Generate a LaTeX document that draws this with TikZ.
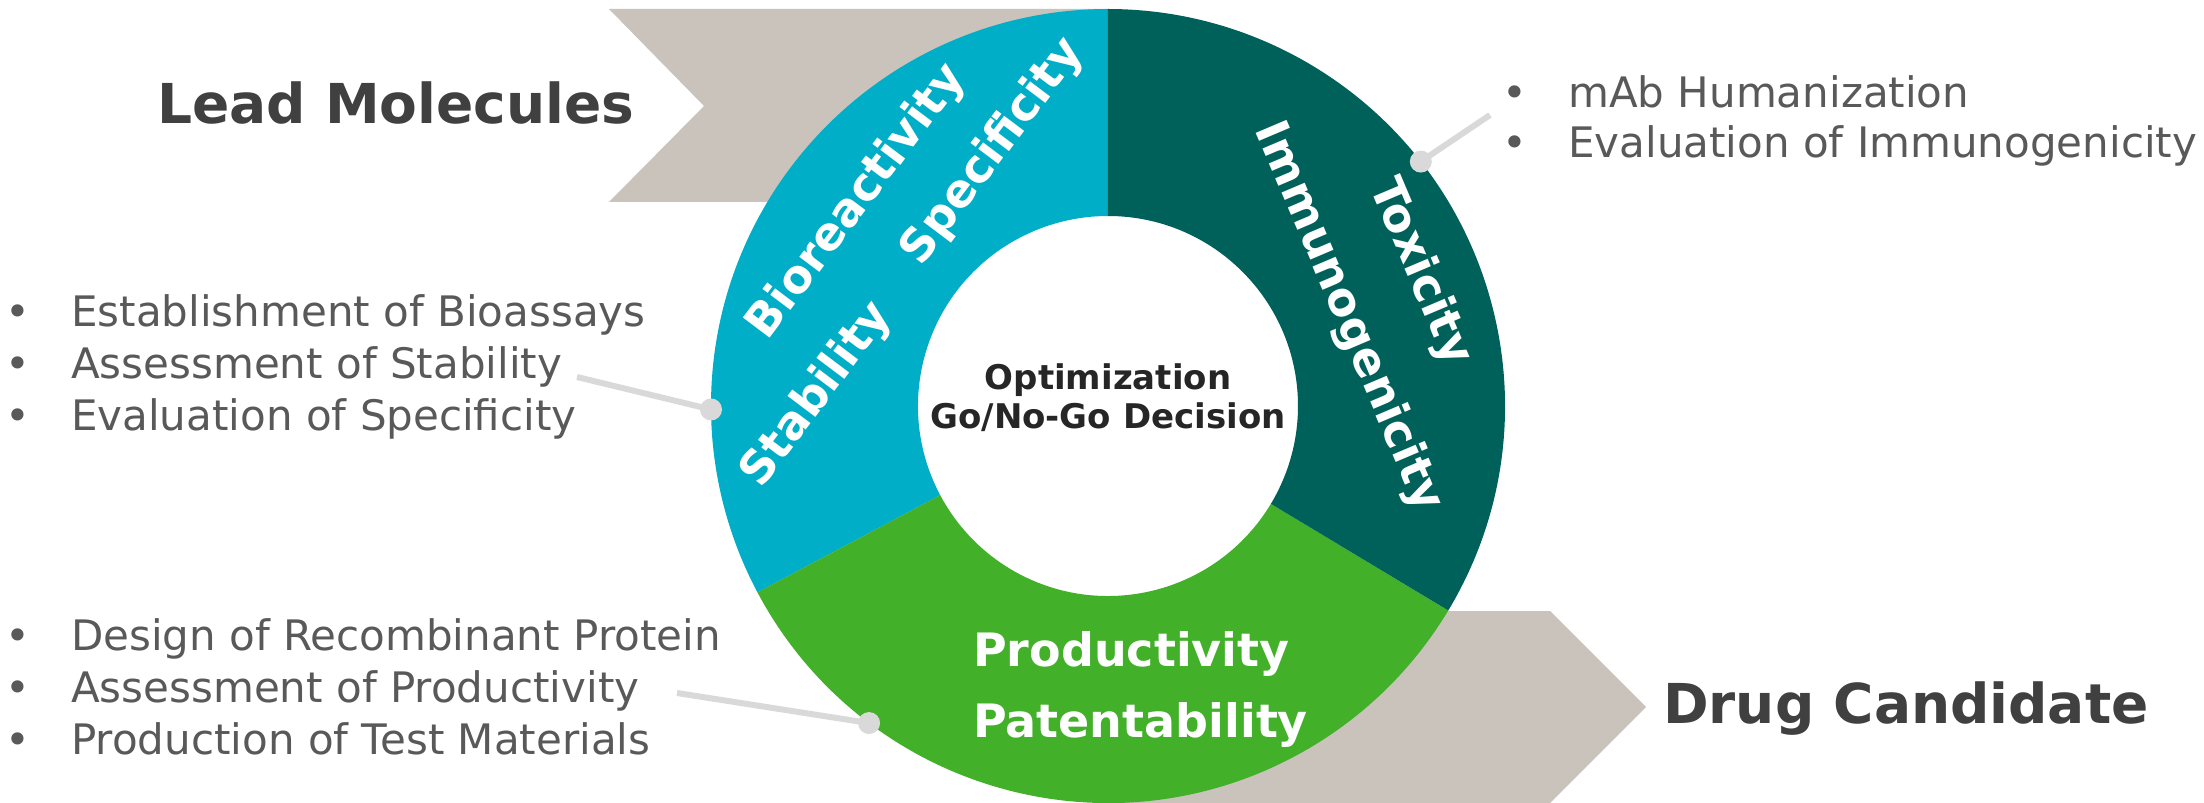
\documentclass[tikz,border=0pt]{standalone}
\usepackage{fontspec}
\setmainfont{DejaVu Sans}
\usepackage{xcolor}
\usepackage{tikz}
\usetikzlibrary{positioning}

\definecolor{ringcyan}{HTML}{00AEC7}
\definecolor{ringteal}{HTML}{00615B}
\definecolor{ringgreen}{HTML}{43B02A}
\definecolor{chevgrey}{HTML}{C9C3BC}
\definecolor{leadgrey}{HTML}{D9D9D9}
\definecolor{txtgrey}{HTML}{595959}
\definecolor{titlegrey}{HTML}{404040}

\tikzset{
    chevron/.style = {fill=chevgrey, draw=none},
    seglabel/.style = {inner sep=0pt, text=white, font=\fontsize{46}{52}\selectfont\bfseries},
    titletext/.style = {anchor=base west, inner sep=0pt, text=titlegrey, font=\fontsize{55}{60}\selectfont\bfseries},
    hubtext/.style = {anchor=base, inner sep=0pt, text=black!85, font=\fontsize{34}{39}\selectfont\bfseries},
    itemtext/.style = {anchor=base west, inner sep=0pt, text=txtgrey, font=\fontsize{42}{50}\selectfont},
    leader/.style = {draw=leadgrey, line width=6pt},
    leaderdot/.style = {fill=leadgrey}
}
\newcommand{\bul}{\makebox[66pt][l]{\textbullet}}

\begin{document}
\begin{tikzpicture}[x=1pt, y=1pt]
    \useasboundingbox (-1108,-397) rectangle (1096,406);

    % chevrons behind the ring
    \fill[chevron] (-499,397) -- (-404,300) -- (-499,204) -- (0,204) -- (0,397) -- cycle;
    \fill[chevron] (0,-205) -- (442,-205) -- (538,-301) -- (442,-397) -- (0,-397) -- cycle;

    % ring
    \foreach \from/\to/\col in {90/208/ringcyan, 208/329/ringgreen, -31/90/ringteal}
        \fill[\col] (\from:397pt) arc[start angle=\from, end angle=\to, radius=397pt]
            -- (\to:190pt) arc[start angle=\to, end angle=\from, radius=190pt] -- cycle;

    % centre
    \node[hubtext] (optim) at (0,16) {Optimization};
    \node[hubtext] (decide) at (0,-23) {Go/No-Go Decision};

    % segment labels
    \node[seglabel, rotate=53] (bioreact) at (-251,204) {Bioreactivity};
    \node[seglabel, rotate=53] (specif) at (-115,254) {Specificity};
    \node[seglabel, rotate=53] (stabil) at (-291,11) {Stability};
    \node[seglabel, rotate=-67] (toxic) at (312,134) {Toxicity};
    \node[seglabel, rotate=-67] (immuno) at (240,89) {Immunogenicity};
    \node[seglabel, anchor=base west] (product) at (-135,-260) {Productivity};
    \node[seglabel, anchor=base west] (patent) at (-135,-331) {Patentability};

    % titles
    \node[titletext] (lead) at (-951,282) {Lead Molecules};
    \node[titletext] (drug) at (555,-317) {Drug Candidate};

    % bullet lists
    \foreach \txt [count=\i] in {Establishment of Bioassays, Assessment of Stability, Evaluation of Specificity}
        \node[itemtext] (assay\i) at (-1103,131-52*\i) {\bul\txt};
    \foreach \txt [count=\i] in {Design of Recombinant Protein, Assessment of Productivity, Production of Test Materials}
        \node[itemtext] (prot\i) at (-1103,-192-52*\i) {\bul\txt};
    \foreach \txt [count=\i] in {mAb Humanization, Evaluation of Immunogenicity}
        \node[itemtext] (human\i) at (394,348-50*\i) {\bul\txt};

    % leaders
    \coordinate (stabtip) at (-531,29);
    \coordinate (stabdot) at (180.5:397pt);
    \coordinate (prodtip) at (-431,-287);
    \coordinate (proddot) at (233:397pt);
    \coordinate (humtip) at (382,291);
    \coordinate (humdot) at (38:397pt);
    \foreach \a/\b in {stabtip/stabdot, prodtip/proddot, humtip/humdot} {
        \draw[leader] (\a) -- (\b);
        \fill[leaderdot] (\b) circle[radius=11pt];
    }
\end{tikzpicture}
\end{document}
